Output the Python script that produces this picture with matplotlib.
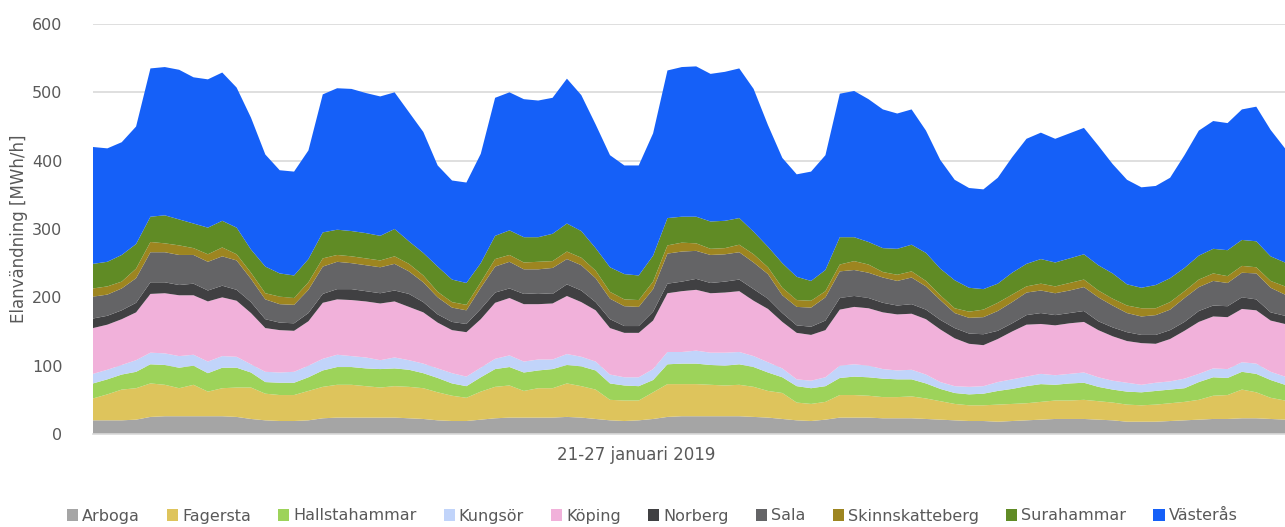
import matplotlib
matplotlib.use('Agg')
import matplotlib.pyplot as plt
from matplotlib.patches import Patch
import numpy as np

# two-hour steps over the week 21-27 January 2019
hours = np.arange(0, 168, 2)

names = ['Arboga', 'Fagersta', 'Hallstahammar', 'Kungsör', 'Köping',
         'Norberg', 'Sala', 'Skinnskatteberg', 'Surahammar', 'Västerås']
colors = ['#a5a5a5', '#dec45c', '#9dd35a', '#c1d4fa', '#f1b1da',
          '#404042', '#646466', '#9d8520', '#608b25', '#1560f8']

arboga = [20, 20, 20, 21, 25, 26, 26, 26, 26, 26, 25, 22, 20, 19, 19, 20, 23, 24, 24, 24, 24,
          24, 23, 22, 20, 19, 19, 21, 23, 24, 24, 24, 24, 25, 24, 22, 20, 19, 20, 22, 25, 26,
          26, 26, 26, 26, 25, 24, 22, 20, 19, 21, 24, 24, 24, 23, 23, 23, 22, 21, 20, 19, 19,
          18, 19, 20, 21, 22, 22, 22, 21, 20, 18, 18, 18, 19, 20, 21, 22, 22, 23, 23, 22, 21]
fagersta = [32, 38, 45, 46, 49, 46, 41, 46, 36, 41, 43, 46, 39, 38, 38, 43, 46, 48, 48, 46, 44,
            46, 46, 45, 41, 37, 34, 41, 46, 47, 39, 43, 43, 49, 46, 43, 30, 30, 29, 39, 48, 47,
            47, 46, 45, 46, 44, 39, 38, 26, 25, 26, 33, 33, 32, 31, 31, 32, 30, 27, 24, 23, 23,
            25, 25, 25, 26, 27, 27, 28, 27, 26, 25, 24, 25, 26, 27, 29, 34, 35, 42, 38, 31, 28]
hallstahammar = [22, 22, 22, 24, 28, 29, 30, 28, 27, 30, 29, 22, 17, 18, 18, 20, 24, 26, 26, 26, 27,
                 26, 25, 22, 21, 18, 17, 21, 26, 27, 27, 26, 28, 27, 29, 28, 24, 22, 21, 18, 29, 30,
                 30, 29, 29, 30, 29, 27, 23, 24, 23, 23, 25, 27, 27, 27, 26, 25, 22, 18, 16, 16, 17,
                 20, 22, 25, 26, 23, 25, 25, 21, 19, 19, 19, 20, 20, 20, 26, 27, 25, 26, 27, 26, 23]
kungsor = [14, 14, 14, 17, 17, 17, 17, 16, 17, 17, 16, 12, 15, 15, 16, 17, 17, 18, 16, 16, 13,
           16, 14, 14, 14, 15, 14, 14, 15, 17, 16, 16, 14, 16, 14, 13, 13, 12, 13, 16, 18, 17,
           19, 18, 19, 18, 16, 15, 13, 10, 11, 13, 18, 18, 17, 14, 13, 14, 13, 10, 10, 11, 11,
           13, 14, 14, 15, 14, 14, 15, 14, 13, 13, 11, 12, 12, 14, 12, 13, 13, 14, 15, 12, 12]
koping = [67, 66, 67, 70, 86, 88, 89, 87, 88, 86, 82, 75, 64, 62, 60, 65, 82, 81, 82, 82, 83,
          82, 78, 75, 67, 63, 65, 71, 82, 84, 84, 81, 82, 85, 80, 75, 68, 65, 65, 71, 86, 89,
          89, 87, 88, 89, 81, 78, 68, 68, 67, 69, 82, 84, 84, 83, 82, 82, 81, 77, 70, 63, 60,
          63, 70, 76, 73, 73, 74, 74, 69, 65, 61, 61, 57, 62, 70, 76, 76, 76, 78, 78, 75, 77]
norberg = [14, 13, 13, 14, 17, 16, 15, 17, 16, 17, 16, 16, 13, 11, 11, 12, 13, 15, 16, 15, 15,
           16, 19, 15, 12, 12, 12, 15, 15, 14, 15, 16, 14, 17, 17, 12, 13, 10, 10, 13, 14, 14,
           16, 15, 16, 17, 17, 15, 13, 11, 12, 14, 17, 16, 15, 14, 13, 14, 14, 14, 15, 15, 16,
           12, 12, 14, 16, 15, 15, 16, 13, 13, 13, 12, 13, 13, 13, 16, 16, 16, 17, 16, 12, 12]
sala = [32, 31, 32, 36, 44, 44, 44, 42, 42, 43, 43, 34, 29, 27, 27, 34, 40, 40, 38, 38, 38,
        39, 33, 29, 25, 21, 20, 31, 38, 39, 36, 35, 38, 37, 37, 35, 30, 29, 28, 33, 44, 44,
        41, 41, 40, 40, 39, 36, 26, 27, 28, 34, 39, 38, 37, 37, 36, 39, 34, 29, 22, 23, 25,
        29, 31, 33, 33, 32, 33, 35, 35, 32, 28, 27, 29, 30, 35, 35, 36, 34, 36, 38, 36, 31]
skinnskatteberg = [12, 12, 10, 14, 15, 13, 14, 10, 11, 13, 9, 9, 9, 11, 10, 11, 12, 10, 10, 10, 10,
                   11, 11, 10, 8, 8, 8, 8, 11, 10, 10, 11, 10, 11, 11, 11, 10, 10, 10, 11, 12, 13,
                   11, 9, 9, 11, 12, 10, 11, 10, 10, 9, 10, 13, 12, 8, 9, 9, 8, 7, 7, 9, 11,
                   12, 11, 9, 10, 10, 11, 11, 10, 10, 11, 12, 10, 11, 10, 11, 11, 10, 10, 9, 10, 12]
surahammar = [36, 36, 39, 36, 37, 41, 38, 36, 39, 39, 39, 34, 39, 34, 33, 34, 38, 37, 37, 37, 36,
              40, 33, 33, 37, 33, 32, 28, 34, 36, 37, 36, 40, 41, 39, 33, 36, 37, 36, 38, 40, 38,
              39, 40, 40, 39, 33, 30, 36, 34, 29, 31, 40, 35, 33, 35, 38, 39, 41, 39, 41, 35, 30,
              28, 32, 33, 36, 35, 36, 37, 37, 37, 31, 30, 34, 35, 34, 35, 36, 38, 38, 38, 36, 35]
vasteras = [171, 166, 165, 172, 217, 217, 219, 214, 217, 217, 205, 193, 164, 151, 152, 159, 202, 207, 208, 205, 204,
            200, 189, 177, 148, 145, 147, 160, 202, 202, 202, 200, 199, 212, 199, 181, 164, 159, 161, 179, 216, 219,
            220, 216, 218, 219, 209, 178, 154, 150, 160, 168, 210, 214, 209, 203, 198, 198, 179, 159, 147, 146, 146,
            155, 169, 183, 185, 181, 183, 185, 175, 160, 153, 147, 145, 147, 165, 183, 187, 186, 191, 197, 185, 167]

series = [arboga, fagersta, hallstahammar, kungsor, koping,
          norberg, sala, skinnskatteberg, surahammar, vasteras]

fig = plt.figure(figsize=(12.85, 5.27), dpi=100)
ax = fig.add_axes([93 / 1285, 93 / 527, 1192 / 1285, 410 / 527])

ax.stackplot(hours, *series, colors=colors, linewidth=0)

ax.set_xlim(hours[0], hours[-1])
ax.set_ylim(0, 600)
ax.set_yticks(range(0, 601, 100))
ax.set_xticks([])
ax.yaxis.grid(True, color='#d9d9d9', linewidth=1.2)
ax.set_axisbelow(True)
for side in ['top', 'right', 'left']:
    ax.spines[side].set_visible(False)
ax.spines['bottom'].set_color('#d9d9d9')
ax.spines['bottom'].set_linewidth(1.2)
ax.tick_params(axis='y', length=0, pad=22, labelsize=11.5, labelcolor='#595959')

fig.text(19 / 1285, (527 - 229) / 527, 'Elanvändning [MWh/h]', rotation=90,
         ha='center', va='center', fontsize=12, color='#595959')

fig.text(636 / 1285, (527 - 455) / 527, '21-27 januari 2019',
         ha='center', va='center', fontsize=12, color='#595959')

handles = [Patch(facecolor=c, edgecolor='none') for c in colors]
fig.legend(handles, names, loc='center', ncol=10,
           bbox_to_anchor=(652 / 1285, (527 - 516) / 527), frameon=False,
           fontsize=11.5, labelcolor='#595959', handlelength=0.7, handleheight=0.7,
           handletextpad=0.25, columnspacing=1.7)

fig.savefig('out.png', dpi=100)
